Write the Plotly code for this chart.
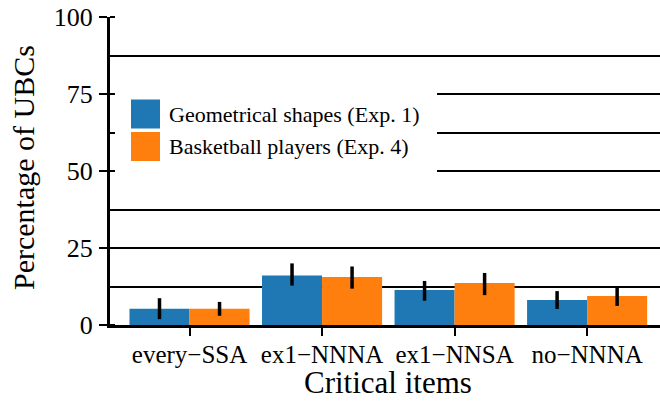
import plotly.graph_objects as go

categories = ["every−SSA", "ex1−NNNA", "ex1−NNSA", "no−NNNA"]
series_names = ["Geometrical shapes (Exp. 1)", "Basketball players (Exp. 4)"]
geo_values = [5.3, 16.1, 11.4, 8.1]
geo_err_hi = [8.7, 20.0, 14.3, 11.0]
geo_err_lo = [1.9, 12.8, 7.9, 5.2]
bb_values = [5.3, 15.6, 13.6, 9.4]
bb_err_hi = [7.5, 19.0, 16.9, 12.4]
bb_err_lo = [3.0, 11.8, 9.7, 6.2]
y_ticks = [0, 25, 50, 75, 100]
x_title = "Critical items"
y_title = "Percentage of UBCs"

colors = ["#1f77b4", "#ff7f0e"]
FONT = "Liberation Serif"

fig = go.Figure()
for name, vals, hi, lo, col in [
    (series_names[0], geo_values, geo_err_hi, geo_err_lo, colors[0]),
    (series_names[1], bb_values, bb_err_hi, bb_err_lo, colors[1]),
]:
    fig.add_trace(go.Bar(
        x=categories, y=vals, name=name, marker=dict(color=col, line=dict(width=0)),
        error_y=dict(type="data", symmetric=False,
                     array=[h - v for h, v in zip(hi, vals)],
                     arrayminus=[v - l for l, v in zip(lo, vals)],
                     color="black", thickness=3.5, width=0),
        showlegend=False,
    ))

# plot area geometry (pixels)
L, R, T, B = 110, 660, 17, 325
W, H = R - L, B - T
def px(x):
    return (x - L) / W
def py(y):
    return (B - y) / H

shapes = [
    dict(type="rect", xref="paper", yref="paper", x0=px(115), x1=px(437), y0=py(172), y1=py(93),
         fillcolor="white", line=dict(width=0), layer="above"),
    dict(type="rect", xref="paper", yref="paper", x0=px(131), x1=px(160), y0=py(128.5), y1=py(99.5),
         fillcolor=colors[0], line=dict(width=0), layer="above"),
    dict(type="rect", xref="paper", yref="paper", x0=px(131), x1=px(160), y0=py(161), y1=py(132),
         fillcolor=colors[1], line=dict(width=0), layer="above"),
]
annotations = [
    dict(xref="paper", yref="paper", x=px(167), y=py(114), text=series_names[0], showarrow=False,
         xanchor="left", yanchor="middle", font=dict(family=FONT, size=22, color="black")),
    dict(xref="paper", yref="paper", x=px(167), y=py(146.5), text=series_names[1], showarrow=False,
         xanchor="left", yanchor="middle", font=dict(family=FONT, size=22, color="black")),
    dict(xref="paper", yref="paper", x=px(388), y=py(383), text=x_title, showarrow=False,
         xanchor="center", yanchor="middle", font=dict(family=FONT, size=31, color="black")),
    dict(xref="paper", yref="paper", x=px(23), y=py(168), text=y_title, showarrow=False, textangle=-90,
         xanchor="center", yanchor="middle", font=dict(family=FONT, size=30, color="black")),
]

fig.update_layout(
    width=660, height=401,
    margin=dict(l=L, r=660 - R, t=T, b=401 - B),
    barmode="group", bargap=0.094, bargroupgap=0,
    plot_bgcolor="white", paper_bgcolor="white",
    font=dict(family=FONT, color="black"),
    shapes=shapes, annotations=annotations,
    xaxis=dict(
        range=[-0.6, 3.55], showline=True, linecolor="black", linewidth=3,
        ticks="outside", ticklen=8, tickwidth=2, tickcolor="black",
        tickfont=dict(size=25, family=FONT), showgrid=False, zeroline=False,
        ticklabelstandoff=-3, automargin=False,
    ),
    yaxis=dict(
        range=[0, 100], tickvals=y_ticks, showline=True, linecolor="black", linewidth=3,
        ticks="outside", ticklen=8, tickwidth=2, tickcolor="black",
        tickfont=dict(size=26, family=FONT), ticklabelstandoff=1,
        showgrid=True, gridcolor="black", gridwidth=1.5, zeroline=False,
        minor=dict(dtick=12.5, tick0=0, showgrid=True, gridcolor="black", gridwidth=1.5,
                   ticks="inside", ticklen=5, tickwidth=1.5, tickcolor="black"),
        automargin=False,
    ),
)

fig.write_html("out.html", config={"displayModeBar": False},
               post_script="document.body.style.margin='0';document.body.style.overflow='hidden';")
